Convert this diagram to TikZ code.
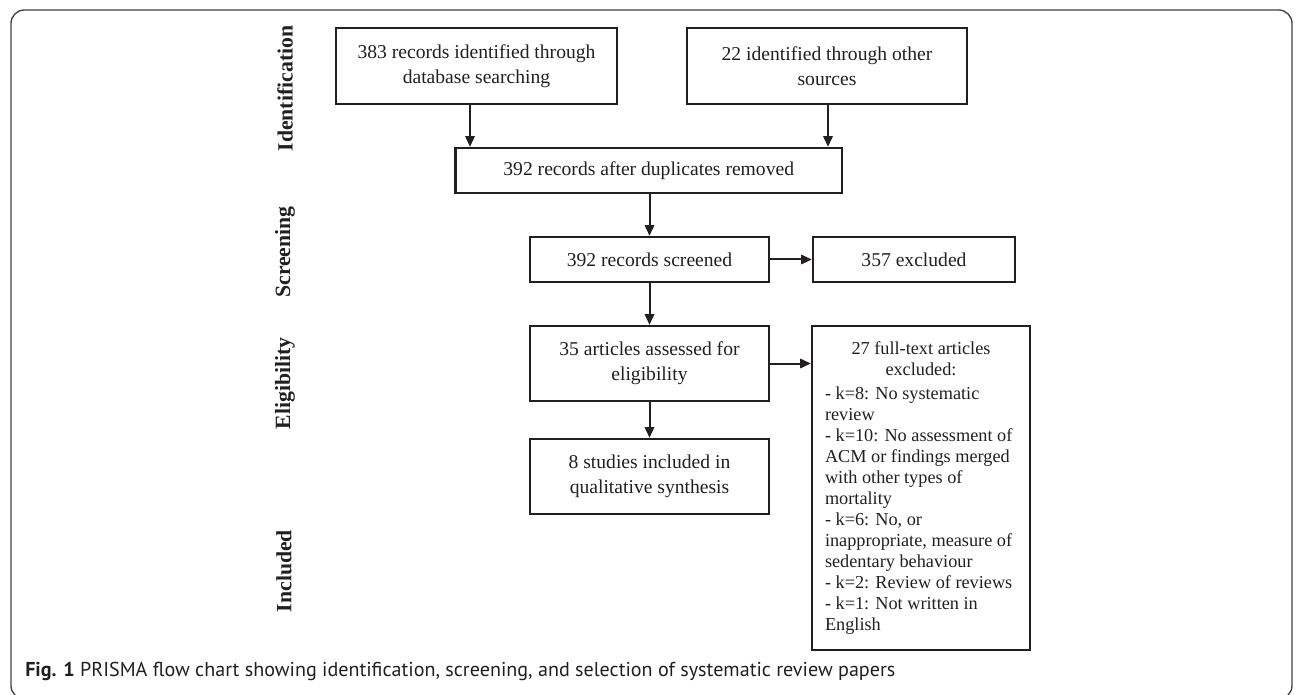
\documentclass[tikz,border=0pt]{standalone}
\usepackage{fontspec}
\setmainfont{Liberation Serif}
\newfontfamily\capfont{PT Sans}
\usetikzlibrary{arrows.meta,calc}
\definecolor{ink}{HTML}{231F20}
\begin{document}
\begin{tikzpicture}[x=0.75pt,y=-0.75pt,
  box/.style={draw=ink,line width=1.7pt,inner sep=0pt,align=center,text=ink,
    font=\fontsize{14.7pt}{18.75pt}\selectfont},
  arr/.style={draw=ink,line width=1.5pt,-{Triangle[length=8pt,width=7pt]}},
  phase/.style={rotate=90,text=ink,inner sep=0pt,font=\fontsize{16.3pt}{18pt}\selectfont\bfseries}]
\useasboundingbox (0,0) rectangle (1296,695);
% outer frame
\draw[ink!85,line width=1pt,rounded corners=10pt] (11,10) rectangle (1292,699);

% phase labels
\node[phase] (pid) at (285,88.5) {Identification};
\node[phase] (psc) at (285,252) {Screening};
\node[phase] (pel) at (285,383.5) {Eligibility};
\node[phase] (pin) at (284,571) {Included};

% boxes
\node[box,minimum width=210.75pt,minimum height=57pt] (A) at (476.5,66)
  {383 records identified through\\database searching};
\node[box,minimum width=210pt,minimum height=57pt] (B) at (827,66)
  {22 identified through other\\sources};
\node[box,minimum width=289.9pt,minimum height=33.75pt] (C) at (648.75,170.5)
  {392 records after duplicates removed};
\node[box,minimum width=179.25pt,minimum height=33.75pt] (D) at (649.5,259.5)
  {392 records screened};
\node[box,minimum width=151.5pt,minimum height=33.75pt] (E) at (914,259.5)
  {357 excluded};
\node[box,minimum width=163.5pt,minimum height=243pt] (G) at (921,488)
  {\parbox{144pt}{\fontsize{13.7pt}{15.75pt}\selectfont\centering
   27 full-text articles\\excluded:\par\vspace{2.5pt}\raggedright
   - k=8: No systematic\\review\\
   - k=10: No assessment of\\ACM or findings merged\\with other types of\\mortality\\
   - k=6: No, or\\inappropriate, measure of\\sedentary behaviour\\
   - k=2: Review of reviews\\
   - k=1: Not written in\\English\par}};
\node[box,minimum width=179.25pt,minimum height=56.25pt] (F) at (649.5,363.5)
  {35 articles assessed for\\eligibility};
\node[box,minimum width=179.25pt,minimum height=56.25pt] (H) at (649.5,476.5)
  {8 studies included in\\qualitative synthesis};

% arrows
\coordinate (ax) at (470,0);
\coordinate (bx) at (828,0);
\draw[arr] (A.south -| ax) -- (C.north -| ax);
\draw[arr] (B.south -| bx) -- (C.north -| bx);
\draw[arr] (C.south -| D.north) -- (D.north);
\draw[arr] (D.east) -- (E.west);
\draw[arr] (D.south) -- (F.north);
\draw[arr] (F.east) -- (F.east -| G.west);
\draw[arr] (F.south) -- (H.north);

% caption
\node[anchor=base west,inner sep=0pt,text=ink] (cap) at (25,676)
  {\resizebox{652.5pt}{!}{\capfont\textbf{Fig. 1} PRISMA flow chart showing identification, screening, and selection of systematic review papers}};
\end{tikzpicture}
\end{document}
